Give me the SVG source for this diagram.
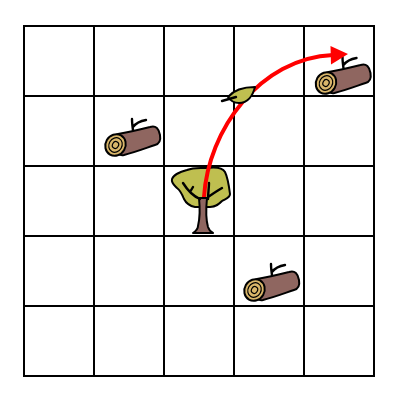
<svg xmlns="http://www.w3.org/2000/svg" width="400" height="400" viewBox="0 0 400 400">
<style>
.grid{fill:none;stroke:#000;stroke-width:2}
.ol{stroke:#000;stroke-width:2;stroke-linejoin:round;stroke-linecap:round}
.bark{fill:#8f6660}
.wood{fill:#d9b66a}
.ring{fill:none;stroke:#000;stroke-width:1.2}
.leaf{fill:#bfbf50}
.twig{fill:none;stroke:#000;stroke-width:2.4;stroke-linecap:round;stroke-linejoin:round}
</style>
<defs>
<g id="log">
<path class="twig" d="M134 137C133 130 132 125 132 119M133 127C136 123 140 121 146 120"/>
<path class="ol bark" d="M118 134C130 132 142 129 150 127C156 125 159 129 160 135C161 141 159 144 155 145C146 148 136 152 124 155C119 156 112 152 112 145C112 140 114 135 118 134Z"/>
<ellipse class="ol wood" cx="115.500" cy="145" rx="10" ry="11" transform="rotate(30 115.500 145)"/>
<ellipse class="ring" cx="115.500" cy="145" rx="6.500" ry="7.500" transform="rotate(30 115.500 145)"/>
<ellipse class="ring" cx="115.500" cy="145" rx="3" ry="3.500" transform="rotate(30 115.500 145)"/>
</g>
</defs>
<g id="grid" class="grid">
<rect x="24" y="26" width="350" height="350"/>
<path d="M94 26V376M164 26V376M234 26V376M304 26V376M24 96H374M24 166H374M24 236H374M24 306H374"/>
</g>
<g id="log-1"><use href="#log"/></g>
<g id="log-2"><use href="#log" x="210.500" y="-62"/></g>
<g id="log-3"><use href="#log" x="139" y="145"/></g>
<g id="tree">
<path class="ol leaf" d="M172 179C174 174 180 172 187 170C194 167 201 168 207 168C215 167 222 167 225 172C228 178 229 186 230 194C230 198 225 199 222 201C219 204 216 207 210 207L195 207C190 206 186 203 184 199C182 194 180 190 177 188C174 185 171 183 172 179Z"/>
<path class="ol bark" d="M199 198L207 198C206 208 206 220 208 227C209 230 211 232 213 233L193 233C196 231 198 229 198 226C200 218 200 208 199 198Z"/>
<path class="twig" d="M183 183C188 191 193 196 200 199M190 192L193 187M208 199C208 193 209 188 209 183M207 198C212 194 217 191 222 188"/>
</g>
<g id="connectors">
<path d="M204 197C208 130 260 58 333 55" fill="none" stroke="#f00" stroke-width="4"/>
<path d="M348 54L330.500 46L331 64.500Z" fill="#f00"/>
</g>
<g id="leaf">
<path class="ol leaf" d="M228 97C233 91 243 87 255 87C253 95 248 103 239 103C234 103 230 100 228 97Z"/>
<path class="twig" d="M222 101L236 97"/>
</g>
</svg>
